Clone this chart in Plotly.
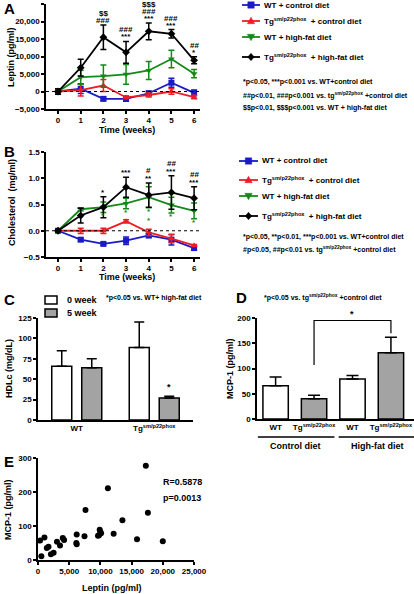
import plotly.graph_objects as go

W, H = 414, 594
def X(px): return px / W
def Y(py): return 1 - py / H

FONT = "Liberation Sans, Arial, sans-serif"

# ---------------- data ----------------
weeks = [0, 1, 2, 3, 4, 5, 6]
series_names = ["WT + control diet",
                "Tg<sup>sm/p22phox</sup>  + control diet",
                "WT + high-fat diet",
                "Tg<sup>sm/p22phox</sup>  + high-fat diet"]

leptin_wt_ctrl = [0, 800, -2100, -2100, -500, 2500, -400]
leptin_wt_ctrl_err = [500, 1400, 500, 700, 600, 1300, 800]
leptin_tg_ctrl = [0, 400, 1700, -1700, -1000, 0, -1600]
leptin_tg_ctrl_err = [500, 1700, 1700, 400, 600, 800, 500]
leptin_wt_hfd = [0, 4100, 4400, 4900, 6000, 9300, 5100]
leptin_wt_hfd_err = [600, 2000, 3200, 2800, 2600, 2500, 1200]
leptin_tg_hfd = [0, 6800, 15500, 11200, 17200, 16500, 8900]
leptin_tg_hfd_err = [800, 2400, 3500, 3100, 2400, 1200, 1000]
leptin_sig = {2: ["###", "$$"], 3: ["***", "###"], 4: ["***", "###", "$$$"],
              5: ["***", "###"], 6: ["*", "##"]}

chol_wt_ctrl = [0, -0.17, -0.25, -0.19, -0.09, -0.17, -0.33]
chol_wt_ctrl_err = [0.02, 0.03, 0.02, 0.07, 0.04, 0.10, 0.03]
chol_tg_ctrl = [0, 0.0, 0.0, 0.18, -0.03, -0.15, -0.28]
chol_tg_ctrl_err = [0.02, 0.05, 0.05, 0.03, 0.06, 0.08, 0.02]
chol_wt_hfd = [0, 0.41, 0.45, 0.52, 0.64, 0.49, 0.38]
chol_wt_hfd_err = [0.02, 0.03, 0.10, 0.10, 0.20, 0.15, 0.15]
chol_tg_hfd = [0, 0.29, 0.45, 0.83, 0.68, 0.73, 0.62]
chol_tg_hfd_err = [0.02, 0.14, 0.20, 0.19, 0.23, 0.32, 0.22]
chol_sig_black = {2: ["*"], 3: ["***"], 4: ["**", "#"], 5: ["***", "##"], 6: ["***", "##"]}
chol_sig_green = {2: ["*"], 3: ["*"], 4: ["*", "*"], 5: ["*"], 6: ["*"]}

hdl_groups = ["WT", "Tg<sup>sm/p22phox</sup>"]
hdl_series = ["0 week", "5 week"]
hdl_week0 = [66, 89]
hdl_week0_err = [19, 31]
hdl_week5 = [64, 27]
hdl_week5_err = [11, 2]

mcp_labels = ["WT", "Tg<sup>sm/p22phox</sup>", "WT", "Tg<sup>sm/p22phox</sup>"]
mcp_genotype = ["WT", "Tg", "WT", "Tg"]
mcp_values = [66, 40, 79, 131]
mcp_err = [17, 7, 7, 31]
diet_groups = ["Control diet", "High-fat diet"]

scatter_leptin = [330, 540, 1030, 1410, 1680, 2070, 2500, 3040, 3530, 3970, 4180,
                  6200, 6140, 6200, 7450, 7610, 9620, 9780, 9890, 10000, 10110,
                  11200, 12120, 13530, 15870, 17280, 17610, 20000]
scatter_mcp1 = [57, 11, 66, 35, 39, 17, 21, 54, 43, 65, 59,
                75, 50, 46, 70, 147, 71, 73, 89, 82, 79,
                211, 77, 117, 61, 277, 139, 55]

# ---------------- styles ----------------
colors = ["#1a1ac8", "#ee1c24", "#138a17", "#000000"]
symbols = ["square", "triangle-up", "triangle-down", "diamond"]
GRAY = "#a3a3a3"

fig = go.Figure()

def add_lines(vals, errs, xa, ya):
    for i, (v, e) in enumerate(zip(vals, errs)):
        fig.add_trace(go.Scatter(
            x=weeks, y=v, xaxis=xa, yaxis=ya, mode="lines+markers",
            name=series_names[i], showlegend=False,
            line=dict(color=colors[i], width=1.8),
            marker=dict(symbol=symbols[i], size=6, color=colors[i]),
            error_y=dict(type="data", array=e, visible=True, color=colors[i],
                         thickness=1.5, width=3)))

add_lines([leptin_wt_ctrl, leptin_tg_ctrl, leptin_wt_hfd, leptin_tg_hfd],
          [leptin_wt_ctrl_err, leptin_tg_ctrl_err, leptin_wt_hfd_err, leptin_tg_hfd_err],
          "x", "y")
add_lines([chol_wt_ctrl, chol_tg_ctrl, chol_wt_hfd, chol_tg_hfd],
          [chol_wt_ctrl_err, chol_tg_ctrl_err, chol_wt_hfd_err, chol_tg_hfd_err],
          "x2", "y2")

# C bars
fig.add_trace(go.Bar(x=hdl_groups, y=hdl_week0, name=hdl_series[0], xaxis="x3", yaxis="y3",
                     showlegend=False,
                     marker=dict(color="white", line=dict(color="black", width=1.5)),
                     error_y=dict(type="data", array=hdl_week0_err, arrayminus=[0]*2,
                                  symmetric=False, color="black", thickness=1.5, width=5)))
fig.add_trace(go.Bar(x=hdl_groups, y=hdl_week5, name=hdl_series[1], xaxis="x3", yaxis="y3",
                     showlegend=False,
                     marker=dict(color=GRAY, line=dict(color="black", width=1.5)),
                     error_y=dict(type="data", array=hdl_week5_err, arrayminus=[0]*2,
                                  symmetric=False, color="black", thickness=1.5, width=5)))

# D bars
fill = {"WT": "white", "Tg": GRAY}
fig.add_trace(go.Bar(x=list(range(len(mcp_values))), y=mcp_values, xaxis="x4", yaxis="y4",
                     showlegend=False, width=0.66,
                     marker=dict(color=[fill[g] for g in mcp_genotype],
                                 line=dict(color="black", width=1.5)),
                     error_y=dict(type="data", array=mcp_err, arrayminus=[0]*4,
                                  symmetric=False, color="black", thickness=1.5, width=6)))

# E scatter
fig.add_trace(go.Scatter(x=scatter_leptin, y=scatter_mcp1, xaxis="x5", yaxis="y5",
                         mode="markers", showlegend=False,
                         marker=dict(color="black", size=6)))

# ---------------- axes ----------------
tickfont = dict(family=FONT, size=8, color="black", weight="bold")
def ax(**kw):
    d = dict(showline=True, linecolor="black", linewidth=1.5, ticks="outside",
             ticklen=3, tickwidth=1.5, tickcolor="black", showgrid=False,
             zeroline=False, tickfont=tickfont, fixedrange=True)
    d.update(kw)
    return d

layout = dict(
    width=W, height=H, margin=dict(l=0, r=0, t=0, b=0, autoexpand=False),
    paper_bgcolor="white", plot_bgcolor="white", showlegend=False,
    font=dict(family=FONT, color="black"),
    barmode="group", bargap=0.226, bargroupgap=0.333,
    xaxis=ax(domain=[X(46), X(200)], range=[-0.53, 6.26], tickvals=weeks, anchor="y"),
    yaxis=ax(domain=[Y(109), Y(4)], range=[-5000, 25000], tickvals=[-5000, 0, 5000, 10000, 15000, 20000, 25000],
             tickformat=",d", anchor="x"),
    xaxis2=ax(domain=[X(46), X(200)], range=[-0.53, 6.26], tickvals=weeks, anchor="y2"),
    yaxis2=ax(domain=[Y(257), Y(152)], range=[-0.5, 1.5], tickvals=[-0.5, 0, 0.5, 1.0, 1.5],
              tickformat=".1f", anchor="x2"),
    xaxis3=ax(domain=[X(38), X(193)], range=[-0.5, 1.5], ticks="", anchor="y3", type="category"),
    yaxis3=ax(domain=[Y(420), Y(318)], range=[0, 125], tickvals=[0, 25, 50, 75, 100, 125], anchor="x3"),
    xaxis4=ax(domain=[X(257), 1.0], range=[-0.484, 3.6], ticks="", tickvals=list(range(4)),
              ticktext=mcp_labels, anchor="y4"),
    yaxis4=ax(domain=[Y(419), Y(318)], range=[0, 200], tickvals=[0, 50, 100, 150, 200], anchor="x4"),
    xaxis5=ax(domain=[X(38), X(194)], range=[0, 25000], tickvals=[0, 5000, 10000, 15000, 20000, 25000],
              tickformat=",d", anchor="y5"),
    yaxis5=ax(domain=[Y(560), Y(458)], range=[0, 300], tickvals=[0, 100, 200, 300], anchor="x5"),
)

ann = []
shapes = []
def txt(t, x, y, size=9, xanchor="center", yanchor="middle", angle=0, color="black", **kw):
    d = dict(text=t, x=x, y=y, xref="paper", yref="paper", showarrow=False,
             xanchor=xanchor, yanchor=yanchor, textangle=angle,
             font=dict(family=FONT, size=size, color=color, weight="bold"))
    d.update(kw)
    ann.append(d)

def path_px(pts):
    return "M" + " L".join(f"{X(px):.5f},{Y(py):.5f}" for px, py in pts) + " Z"

def legend_symbol(kind, cx, cy, color, r=3.2):
    if kind == "square":
        pts = [(cx - r, cy - r), (cx + r, cy - r), (cx + r, cy + r), (cx - r, cy + r)]
    elif kind == "triangle-up":
        pts = [(cx, cy - r - 0.5), (cx + r + 0.5, cy + r - 0.5), (cx - r - 0.5, cy + r - 0.5)]
    elif kind == "triangle-down":
        pts = [(cx, cy + r + 0.5), (cx + r + 0.5, cy - r + 0.5), (cx - r - 0.5, cy - r + 0.5)]
    else:
        pts = [(cx, cy - r - 0.5), (cx + r, cy), (cx, cy + r + 0.5), (cx - r, cy)]
    shapes.append(dict(type="path", xref="paper", yref="paper", path=path_px(pts),
                       fillcolor=color, line=dict(color=color, width=0.5)))

def line_legend(rows, x0, x1, xt):
    for i, py in enumerate(rows):
        shapes.append(dict(type="line", xref="paper", yref="paper", x0=X(x0), x1=X(x1),
                           y0=Y(py), y1=Y(py), line=dict(color=colors[i], width=1.8)))
        legend_symbol(symbols[i], (x0 + x1) / 2, py, colors[i])
        txt(series_names[i], X(xt), Y(py), size=8, xanchor="left")

line_legend([5, 21, 37, 57], 242, 260, 262)
line_legend([161, 180, 196, 216], 239, 258, 260)

# C legend
for i, (py, col) in enumerate([(300, "white"), (313, GRAY)]):
    shapes.append(dict(type="rect", xref="paper", yref="paper", x0=X(45), x1=X(57),
                       y0=Y(py + 4), y1=Y(py - 4), fillcolor=col, line=dict(color="black", width=1.5)))
    txt(hdl_series[i], X(65), Y(py), size=9, xanchor="left")

# panel letters
for letter, (px, py) in {"A": (2, 8), "B": (2, 152), "C": (2, 299), "D": (234, 297), "E": (2, 461)}.items():
    txt(letter, X(px), Y(py), size=15, xanchor="left")

# axis titles
txt("Leptin (pg/ml)", X(11), Y(57), angle=-90)
txt("Time (weeks)", X(127), Y(130))
txt("Cholesterol  (mg/ml)", X(12), Y(203), angle=-90)
txt("Time (weeks)", X(127), Y(277))
txt("HDLc (mg/dL)", X(9), Y(369), angle=-90)
txt("MCP-1 (pg/ml)", X(230), Y(369), angle=-90)
txt("MCP-1 (pg/ml)", X(8), Y(510), angle=-90)
txt("Leptin (pg/ml)", X(112), Y(588))

# footnotes
for t, py in [("*p<0.05, ***p<0.001 vs. WT+control diet", 82),
              ("##p<0.01, ###p<0.001 vs. tg<sup>sm/p22phox</sup> +control diet", 95),
              ("$$p<0.01, $$$p<0.001 vs. WT + high-fat diet", 108)]:
    txt(t, X(241), Y(py), size=7, xanchor="left")
for t, py in [("*p<0.05, **p<0.01, ***p<0.001 vs. WT+control diet", 237),
              ("#p<0.05, ##p<0.01 vs. tg<sup>sm/p22phox</sup> +control diet", 250)]:
    txt(t, X(241), Y(py), size=7, xanchor="left")
txt("*p<0.05 vs. WT+ high-fat diet", X(104), Y(298), size=7, xanchor="left")
txt("*p<0.05 vs. tg<sup>sm/p22phox</sup> +control diet", X(262), Y(297), size=7, xanchor="left")
txt("R=0.5878", X(161), Y(482), size=9, xanchor="left")
txt("p=0.0013", X(161), Y(498), size=9, xanchor="left")
txt(diet_groups[0], X(295), Y(446), size=9)
txt(diet_groups[1], X(377), Y(446), size=9)

sigfont = dict(family=FONT, size=8, color="black", weight="bold")
for wk, labels in leptin_sig.items():
    top = leptin_tg_hfd[wk] + leptin_tg_hfd_err[wk]
    for i, lab in enumerate(labels):
        ann.append(dict(text=lab, x=wk, y=top, xref="x", yref="y", showarrow=False,
                        yanchor="bottom", yshift=-2 + i * 7, font=sigfont))
for wk, labels in chol_sig_black.items():
    top = chol_tg_hfd[wk] + chol_tg_hfd_err[wk]
    for i, lab in enumerate(labels):
        ann.append(dict(text=lab, x=wk, y=top, xref="x2", yref="y2", showarrow=False,
                        yanchor="bottom", yshift=-2 + i * 8, font=sigfont))
for wk, labels in chol_sig_green.items():
    bot = chol_wt_hfd[wk] - chol_wt_hfd_err[wk]
    for i, lab in enumerate(labels):
        ann.append(dict(text=lab, x=wk, y=bot, xref="x2", yref="y2", showarrow=False,
                        yanchor="top", yshift=3 - i * 9,
                        font=dict(family=FONT, size=8, color=colors[2], weight="bold")))
ann.append(dict(text="*", x=hdl_groups[1], y=hdl_week5[1] + hdl_week5_err[1], xref="x3", yref="y3",
                xshift=15, yanchor="bottom", yshift=2, showarrow=False,
                font=dict(family=FONT, size=9, color="black", weight="bold")))
ann.append(dict(text="*", x=2, y=195, xref="x4", yref="y4", yanchor="bottom", yshift=0,
                showarrow=False, font=dict(family=FONT, size=9, color="black", weight="bold")))
layout["annotations"] = ann

for xr, yr in [("x", "y"), ("x2", "y2")]:
    shapes.append(dict(type="line", xref=xr, yref=yr, x0=-0.53, x1=6.26, y0=0, y1=0,
                       line=dict(color="black", width=1, dash="dot")))
shapes.append(dict(type="path", xref="x4", yref="y4",
                   path="M1,107 L1,195 L3,195 L3,170", line=dict(color="black", width=1.2)))
shapes.append(dict(type="line", xref="x4", yref="paper", x0=-0.46, x1=1.53, y0=Y(437), y1=Y(437),
                   line=dict(color="black", width=1.5)))
shapes.append(dict(type="line", xref="x4", yref="paper", x0=1.64, x1=3.6, y0=Y(437), y1=Y(437),
                   line=dict(color="black", width=1.5)))
layout["shapes"] = shapes

fig.update_layout(**layout)

post = ("document.body.style.margin='0';document.body.style.overflow='hidden';"
        "var gd=document.getElementById('{plot_id}');gd.style.position='absolute';"
        "gd.style.left='0px';gd.style.top='0px';")
fig.write_html("out.html", post_script=post, config={"displayModeBar": False})
